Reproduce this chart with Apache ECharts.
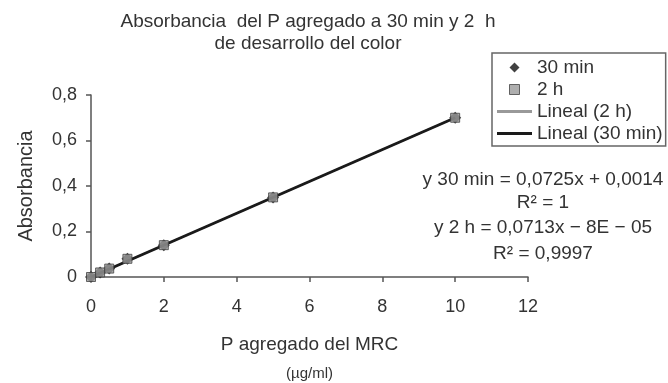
<!DOCTYPE html>
<html>
<head>
<meta charset="utf-8">
<script src="https://cdn.jsdelivr.net/npm/echarts@6/dist/echarts.min.js"></script>
<style>
  html, body { margin: 0; padding: 0; background: #fff; }
  #chart { width: 668px; height: 383px; }
</style>
</head>
<body>
<div id="chart"></div>
<script>
// P agregado (µg/ml)
const xValues = [0, 0.25, 0.5, 1, 2, 5, 10]
// absorbancia a 30 min y a 2 h
const abs30min = [0, 0.02, 0.037, 0.08, 0.14, 0.35, 0.70]
const abs2h = [0, 0.02, 0.037, 0.08, 0.14, 0.35, 0.70]
// extremos de las rectas de tendencia
const trendX = [0, 10]
const trend30min = [0.0, 0.70]
const trend2h = [0.0, 0.70]
// etiquetas de ejes
const xTickLabels = ['0', '2', '4', '6', '8', '10', '12']
const yTickLabels = ['0', '0,2', '0,4', '0,6', '0,8']
const equations = [
  'y 30 min = 0,0725x + 0,0014',
  'R² = 1',
  'y 2 h = 0,0713x − 8E − 05',
  'R² = 0,9997'
]

const font = "'Liberation Sans', Arial, sans-serif"
const textColor = '#333'
// iconos de la leyenda
const lineIcon = 'path://M0 0H35V3H0Z'
const diamondIcon = 'path://M5 0L10 5L5 10L0 5Z'
const squareIcon = 'path://M0 0H9V9H0Z'

const pairs = (xs, ys) => xs.map((x, i) => [x, ys[i]])

const chart = echarts.init(document.getElementById('chart'))

const option = {
  animation: false,
  title: {
    text: 'Absorbancia  del P agregado a 30 min y 2  h\nde desarrollo del color',
    left: 308,
    top: 11,
    padding: 0,
    textAlign: 'center',
    textStyle: {
      fontFamily: font,
      fontSize: 19,
      lineHeight: 22,
      fontWeight: 'normal',
      color: textColor
    }
  },
  legend: {
    orient: 'vertical',
    left: 492,
    top: 53,
    padding: [4, 3, 2, 5],
    itemWidth: 35,
    itemHeight: 10,
    itemGap: 1,
    symbolKeepAspect: true,
    borderColor: '#666',
    borderWidth: 1.5,
    textStyle: { fontFamily: font, fontSize: 19, lineHeight: 21, color: textColor },
    data: [
      { name: '30 min', icon: diamondIcon, itemStyle: { color: '#111', borderWidth: 0 } },
      { name: '2 h', icon: squareIcon, itemStyle: { color: '#9a9a9a', borderColor: '#444', borderWidth: 1 } },
      { name: 'Lineal (2 h)', icon: lineIcon, itemStyle: { color: '#999', borderWidth: 0 } },
      { name: 'Lineal (30 min)', icon: lineIcon, itemStyle: { color: '#1a1a1a', borderWidth: 0 } }
    ]
  },
  grid: { left: 91, right: 140, top: 95, bottom: 106 },
  xAxis: {
    type: 'value',
    min: 0,
    max: 12,
    interval: 2,
    name: '{a|P agregado del MRC}\n{b|(µg/ml)}',
    nameLocation: 'middle',
    nameGap: 54,
    nameTextStyle: {
      rich: {
        a: { fontFamily: font, fontSize: 19, lineHeight: 27, color: textColor },
        b: { fontFamily: font, fontSize: 15, lineHeight: 31, color: textColor }
      }
    },
    axisLine: { lineStyle: { color: '#555', width: 1.5 } },
    axisTick: { inside: false, length: 5, lineStyle: { color: '#555', width: 1.5 } },
    axisLabel: {
      margin: 21,
      fontFamily: font,
      fontSize: 18,
      color: textColor,
      formatter: v => xTickLabels[Math.round(v / 2)]
    },
    splitLine: { show: false }
  },
  yAxis: {
    type: 'value',
    min: 0,
    max: 0.8,
    interval: 0.2,
    name: 'Absorbancia',
    nameLocation: 'middle',
    nameRotate: 90,
    nameGap: 55,
    nameTextStyle: { fontFamily: font, fontSize: 20, color: textColor },
    axisLine: { show: true, lineStyle: { color: '#555', width: 1.5 } },
    axisTick: { show: true, inside: false, length: 5, lineStyle: { color: '#555', width: 1.5 } },
    axisLabel: {
      margin: 14,
      fontFamily: font,
      fontSize: 18,
      color: textColor,
      formatter: v => yTickLabels[Math.round(v / 0.2)]
    },
    splitLine: { show: false }
  },
  graphic: equations.map((t, i) => ({
    type: 'text',
    x: 543,
    y: [180, 203, 228, 254][i],
    style: {
      text: t,
      fontFamily: font,
      fontSize: 19,
      fill: textColor,
      align: 'center',
      verticalAlign: 'middle'
    }
  })),
  series: [
    {
      name: 'Lineal (2 h)',
      type: 'line',
      data: pairs(trendX, trend2h),
      symbol: 'none',
      lineStyle: { color: '#999', width: 1.5 },
      itemStyle: { color: '#999' },
      z: 1
    },
    {
      name: 'Lineal (30 min)',
      type: 'line',
      data: pairs(trendX, trend30min),
      symbol: 'none',
      lineStyle: { color: '#1a1a1a', width: 3 },
      itemStyle: { color: '#1a1a1a' },
      z: 2
    },
    {
      name: '30 min',
      type: 'scatter',
      data: pairs(xValues, abs30min),
      symbol: 'diamond',
      symbolSize: 12,
      itemStyle: { color: '#111' },
      z: 3
    },
    {
      name: '2 h',
      type: 'scatter',
      data: pairs(xValues, abs2h),
      symbol: 'rect',
      symbolSize: 9,
      itemStyle: { color: '#9a9a9a', borderColor: '#444', borderWidth: 1 },
      z: 4
    }
  ]
}

chart.setOption(option)
</script>
</body>
</html>
